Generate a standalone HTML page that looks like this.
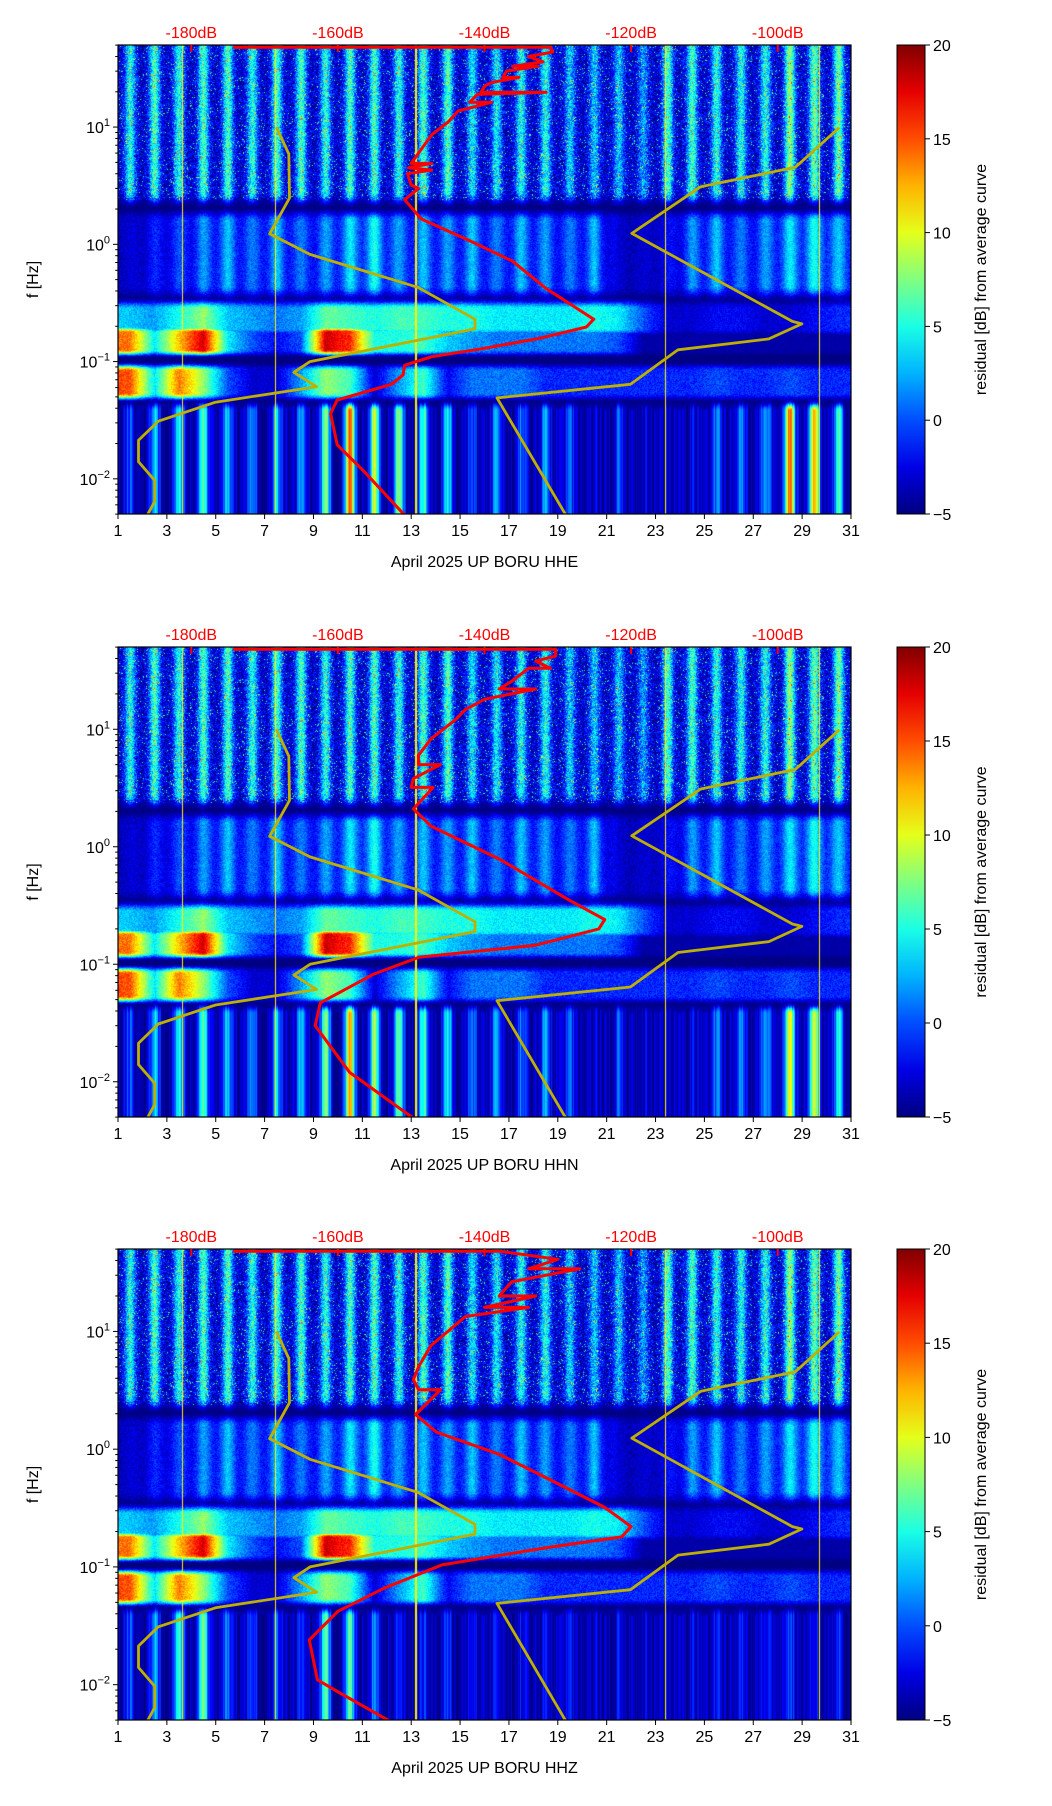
<!DOCTYPE html>
<html><head><meta charset="utf-8">
<style>
html,body{margin:0;padding:0;background:#fff;}
#root{position:relative;width:1052px;height:1806px;overflow:hidden;font-family:"Liberation Sans","DejaVu Sans",sans-serif;}
canvas{position:absolute;}
svg{position:absolute;left:0;top:0;}
</style></head>
<body>
<div id="root">
<canvas id="c0" width="733" height="469" style="left:118px;top:45px"></canvas>
<canvas id="c1" width="733" height="470" style="left:118px;top:647px"></canvas>
<canvas id="c2" width="733" height="471" style="left:118px;top:1249px"></canvas>
<svg id="ov" width="1052" height="1806"></svg>
</div>
<script>
// ---------- data ----------
const panelTops = [45, 647, 1249];
const panelHeights = [469, 470, 471];
const channels = ["HHE", "HHN", "HHZ"];
const xTicks = [1,3,5,7,9,11,13,15,17,19,21,23,25,27,29,31];
const dbTicks = [-180,-160,-140,-120,-100];
const cbTicks = [20,15,10,5,0,-5];
const eventDays = [3.65, 7.45, 13.2, 23.4, 29.7];

// per-day residual values (days 1..30) per frequency band
const hfPeak = [5,6,5,6,6,5,6,6,5,6,6,5,6,6,4,4,5,5,3,3,3,2,6,6,5,5,5,8,7,7];
const midVal = [-3,-1,0,2,3,1,3,1,2,4,5,2,3,2,3,1,3,2,1,3,-3,-3,-2,2,3,1,2,4,5,3];
const microVal = [3,2,5,8,3,2,1,2,7,6,5,6,6,5,5,4,4,4,4,5,4,0,-3,-3,-2,-2,-3,-3,-2,-1];
const blobVal = [14,4,12,18,4,0,-2,0,18,16,5,5,6,3,2,1,1,1,1,1,0,-4,-4,-4,-4,-4,-4,-4,-4,-4];
const lowMicroVal = [15,4,14,8,0,-3,-3,2,8,6,-3,2,6,-2,1,1,1,-1,-1,-1,-1,-1,-1,-1,0,-1,-1,0,-1,-1];
const lowValE = [0,3,5,6,3,2,3,2,8,14,10,9,6,4,0,2,1,2,0,-3,0,-3,-3,-2,1,2,3,15,14,6];
const lowValN = [0,3,5,6,3,2,3,3,8,12,9,8,6,4,1,2,1,2,0,-3,0,-3,-3,-2,1,2,3,11,11,5];
const lowValZ = [0,2,6,7,1,0,0,-1,7,6,2,0,-1,-1,-2,-2,-2,-2,-2,-3,-2,-3,-3,-2,-2,-1,-1,0,-1,-1];

// Peterson models (f [Hz], dB)
const nlnmF = [10,5.9,2.48,1.23,0.82,0.43,0.23,0.19,0.1,0.081,0.061,0.045,0.031,0.0213,0.014,0.0097,0.0064,0.0049];
const nlnmDb = [-168.4,-166.7,-166.6,-169.3,-163.8,-149.1,-141.3,-141.3,-163.8,-166,-162.9,-176.7,-184.5,-187.2,-187.2,-185,-185,-186];
const nhnmF = [9.9,4.54,3.1,1.24,0.22,0.21,0.156,0.126,0.064,0.049,0.0049];
const nhnmDb = [-91.6,-97.6,-110.5,-119.9,-98,-96.7,-101.2,-113.6,-120.1,-138.3,-128.9];

// average PSD curves
const redF_E = [48,48,43.7,40,36,33,33,30,26.5,26.5,24,22.6,19.8,19.8,19,16.3,16.3,13.7,11,8.6,6,4.9,4.9,4.5,4.3,4,3.2,3,2.4,1.64,1.05,0.72,0.42,0.23,0.197,0.158,0.13,0.11,0.093,0.077,0.064,0.047,0.036,0.0195,0.0115,0.0049];
const redDb_E = [-174.3,-131,-130.7,-134,-132,-136.2,-132.7,-137,-137.5,-135.3,-139,-139.9,-140.5,-131.6,-141,-142,-139,-143.6,-145,-147.2,-149,-150,-147.2,-150.4,-147.2,-150.5,-150,-149,-150.9,-148.6,-141.7,-136.2,-131.6,-125.1,-126.1,-132.5,-139.9,-147.2,-150.9,-151.1,-152.7,-160.1,-161,-160.1,-156.4,-150.9];
const redF_N = [48,48,42,38,33,33,25.6,22,22,18,14.7,12,8.3,6,5,5,3.8,3.2,3.2,2.1,1.5,0.78,0.35,0.24,0.2,0.145,0.115,0.082,0.047,0.03,0.012,0.0049];
const redDb_N = [-174.3,-130.3,-130.3,-133,-131,-134,-136.3,-138,-133,-140,-142.6,-144,-147.3,-149,-149,-146,-149.7,-150,-147,-149.7,-147.3,-137.9,-128.4,-123.6,-124.4,-133.1,-148.9,-155.2,-162.4,-163.1,-158.4,-149.7];
const redF_Z = [48,48,41,34,34,26.4,20,20,16,16,13.4,10,7.6,5,3.9,3.2,3.2,1.97,1.4,0.9,0.51,0.32,0.22,0.18,0.146,0.104,0.066,0.042,0.024,0.011,0.0087,0.0049];
const redDb_Z = [-174.3,-138,-130,-134,-127,-136.3,-138,-133,-140,-134,-142.6,-145,-147.3,-149,-149.7,-149,-146,-149.4,-146.6,-137.9,-130,-123.6,-120,-121.3,-131.5,-145.8,-153.7,-160,-163.9,-162.8,-160,-152.9];

const panelsLow = [lowValE, lowValN, lowValZ];
const panelsRedF = [redF_E, redF_N, redF_Z];
const panelsRedDb = [redDb_E, redDb_N, redDb_Z];

// ---------- helpers ----------
const L = 118, W = 733;
const NS = "http://www.w3.org/2000/svg";
const svg = document.getElementById('ov');
function xDay(d){ return L + (d-1)/30*W; }
function xDb(db){ return L + (db+190)/100*W; }
function yF(f,p){ return panelTops[p] + (1.7 - Math.log10(f))/4*panelHeights[p]; }
function clamp(v){ return Math.max(0, Math.min(1, v)); }
function jet(v){
  return [clamp(1.5-Math.abs(4*v-3)), clamp(1.5-Math.abs(4*v-2)), clamp(1.5-Math.abs(4*v-1))];
}
function ss(a,b,x){ const t=clamp((x-a)/(b-a)); return t*t*(3-2*t); }
function bump(a,b,c,d,x){ return ss(a,b,x)*(1-ss(c,d,x)); }
function interp(arr,t){
  const u = t-1.5; let i = Math.floor(u);
  const fr = u - i;
  const a = arr[Math.max(0,Math.min(29,i))], b = arr[Math.max(0,Math.min(29,i+1))];
  return a + (b-a)*fr;
}
function grain(x,y){
  let h = (x*374761393 + y*668265263) | 0;
  h = (h ^ (h >>> 13)) * 1274126177 | 0;
  return (((h ^ (h >>> 16)) >>> 0) / 4294967295) * 2 - 1;
}
function el(tag, attrs, parent){
  const e = document.createElementNS(NS, tag);
  for (const k in attrs) e.setAttribute(k, attrs[k]);
  (parent||svg).appendChild(e);
  return e;
}

// ---------- spectrograms ----------
for (let p=0;p<3;p++){
  const cv = document.getElementById('c'+p);
  const ctx = cv.getContext('2d');
  const H = panelHeights[p];
  const img = ctx.createImageData(W, H);
  const low = panelsLow[p];
  for (let x=0;x<W;x++){
    const t = 1 + (x+0.5)/W*30;
    const di = Math.min(29, Math.floor(t)-1);
    const ph = t - Math.floor(t);
    const dA = Math.exp(-Math.pow((ph-0.5)/0.22,2));
    const dB2 = Math.exp(-Math.pow((ph-0.5)/0.3,2));
    const dC = Math.exp(-Math.pow((ph-0.5)/0.2,2));
    const hf = -3 + (hfPeak[di]+3)*dA;
    const mid = -4 + (interp(midVal,t)+4)*(0.35+0.65*dB2);
    const mic = interp(microVal,t);
    const blb = interp(blobVal,t);
    const lmi = interp(lowMicroVal,t);
    const lo = -4 + (low[di]+4)*dC;
    const colN = grain(x, 7);
    let ev = 0;
    for (const e of eventDays){ if (Math.abs(t-e) < 0.025) ev = 1; }
    for (let y=0;y<H;y++){
      const Lf = 1.7 - (y+0.5)/H*4;
      const whf = ss(0.3,0.45,Lf);
      let v = -5;
      v += whf*(hf+5);
      v += bump(-0.5,-0.35,0.2,0.32,Lf)*(mid+5);
      const wb = bump(-0.97,-0.9,-0.75,-0.68,Lf);
      const wm = bump(-0.8,-0.72,-0.55,-0.45,Lf);
      v += Math.max(wb*(blb+5), wm*(mic+5));
      v += bump(-1.35,-1.27,-1.08,-1.0,Lf)*(lmi+5);
      v += bump(-2.5,-2.4,-1.42,-1.32,Lf)*(lo+5);
      const n = grain(x,y);
      if (whf>0.5) v += n*3 + (n>0.93?6:0);
      else if (Lf > -1.35) v += n*1.2*(v>-4?1:0.3);
      else v += colN*2*(v>-4?1:0);
      if (ev) v = Math.max(v, 11);
      const c = jet(clamp((v+5)/25));
      const k = (y*W+x)*4;
      img.data[k]=c[0]*255; img.data[k+1]=c[1]*255; img.data[k+2]=c[2]*255; img.data[k+3]=255;
    }
  }
  ctx.putImageData(img,0,0);
}

// ---------- axes, curves, labels ----------
const defs = el('defs',{});
const grad = el('linearGradient',{id:'jetg',x1:'0',y1:'1',x2:'0',y2:'0'},defs);
for (let i=0;i<=10;i++){
  const c = jet(i/10);
  el('stop',{offset:(i*10)+'%','stop-color':`rgb(${Math.round(c[0]*255)},${Math.round(c[1]*255)},${Math.round(c[2]*255)})`},grad);
}

for (let p=0;p<3;p++){
  const T = panelTops[p], H = panelHeights[p], B = T+H;
  const g = el('g',{});
  
  

  const cg = el('g',{'clip-path':'url(#clip'+p+')'},g);
  const cp = el('clipPath',{id:'clip'+p},defs);
  el('rect',{x:L,y:T,width:W,height:H},cp);
  const mk2 = (fs,dbs,color,name,w) => {
    let d='';
    for (let i=0;i<fs.length;i++) d += (i?'L':'M') + xDb(dbs[i]).toFixed(1)+','+yF(fs[i],p).toFixed(1);
    const pth = el('path',{d:d,fill:'none',stroke:color,'stroke-width':w,'stroke-linejoin':'round'},cg);
    
    
  };
  mk2(nlnmF,nlnmDb,'#bdb000','nlnm-curve',2.8);
  mk2(nhnmF,nhnmDb,'#bdb000','nhnm-curve',2.8);
  mk2(panelsRedF[p],panelsRedDb[p],'#ff0000','average-psd-curve',3);

  const fr = el('rect',{x:L,y:T,width:W,height:H,fill:'none',stroke:'#000','stroke-width':1.2},g);
  
  

  for (const db of dbTicks){
    const x = xDb(db);
    el('line',{x1:x,x2:x,y1:T,y2:T+7,stroke:'#ff0000','stroke-width':2},g);
    const tx = el('text',{x:x,y:T-7,'text-anchor':'middle','font-size':16,fill:'#ff0000'},g);
    tx.textContent = db+'dB';
    
    
  }
  for (const d of xTicks){
    const x = xDay(d);
    el('line',{x1:x,x2:x,y1:B,y2:B+5,stroke:'#000','stroke-width':1},g);
    const tx = el('text',{x:x,y:B+22,'text-anchor':'middle','font-size':16,fill:'#000'},g);
    tx.textContent = d;
    
    
  }
  const xl = el('text',{x:L+W/2,y:B+53,'text-anchor':'middle','font-size':16,fill:'#000'},g);
  xl.textContent = 'April 2025 UP BORU  ' + channels[p];
  
  

  for (let e=-3;e<=1;e++){
    for (let m=1;m<10;m++){
      const f = m*Math.pow(10,e);
      if (f<0.005 || f>50) continue;
      const y = yF(f,p);
      el('line',{x1:L,x2:L-(m===1?5:2.8),y1:y,y2:y,stroke:'#000','stroke-width':1},g);
      if (m===1){
        const tx = el('text',{x:L-8,y:y+6,'text-anchor':'end','font-size':16,fill:'#000'},g);
        
        
        const t1 = el('tspan',{},tx); t1.textContent='10';
        const t2 = el('tspan',{dy:-7,'font-size':11},tx); t2.textContent = (e<0?'\u2212':'')+Math.abs(e);
      }
    }
  }
  const yl = el('text',{x:0,y:0,transform:`translate(38,${T+H/2}) rotate(-90)`,'text-anchor':'middle','font-size':16,fill:'#000'},g);
  yl.textContent = 'f [Hz]';
  
  

  const cb = el('rect',{x:897,y:T,width:28,height:H,fill:'url(#jetg)',stroke:'#000','stroke-width':1},g);
  
  
  for (const v of cbTicks){
    const y = T + (20-v)/25*H;
    el('line',{x1:925,x2:930,y1:y,y2:y,stroke:'#000','stroke-width':1},g);
    const tx = el('text',{x:933,y:y+6,'font-size':16,fill:'#000'},g);
    tx.textContent = v<0 ? '\u2212'+Math.abs(v) : v;
    
    
  }
  const cl = el('text',{x:0,y:0,transform:`translate(986,${T+H/2}) rotate(-90)`,'text-anchor':'middle','font-size':16,fill:'#000'},g);
  cl.textContent = 'residual [dB] from average curve';
  
  
}
</script>
</body></html>
